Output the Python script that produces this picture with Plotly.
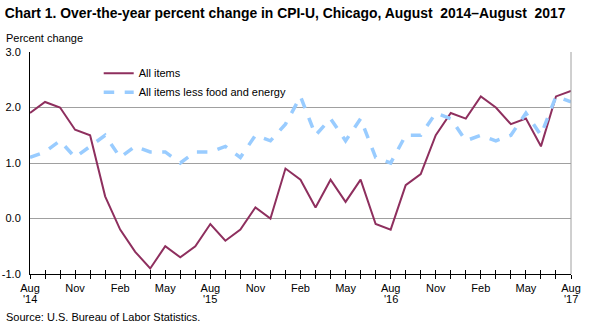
import plotly.graph_objects as go

months = ["Aug","Sep","Oct","Nov","Dec","Jan","Feb","Mar","Apr","May","Jun","Jul",
          "Aug","Sep","Oct","Nov","Dec","Jan","Feb","Mar","Apr","May","Jun","Jul",
          "Aug","Sep","Oct","Nov","Dec","Jan","Feb","Mar","Apr","May","Jun","Jul",
          "Aug"]
years = {0: "'14", 12: "'15", 24: "'16", 36: "'17"}
all_items = [1.9, 2.1, 2.0, 1.6, 1.5, 0.4, -0.2, -0.6, -0.9, -0.5, -0.7, -0.5,
             -0.1, -0.4, -0.2, 0.2, 0.0, 0.9, 0.7, 0.2, 0.7, 0.3, 0.7, -0.1,
             -0.2, 0.6, 0.8, 1.5, 1.9, 1.8, 2.2, 2.0, 1.7, 1.8, 1.3, 2.2, 2.3]
core = [1.1, 1.2, 1.4, 1.1, 1.3, 1.5, 1.1, 1.3, 1.2, 1.2, 1.0, 1.2,
        1.2, 1.3, 1.1, 1.5, 1.4, 1.7, 2.2, 1.5, 1.8, 1.4, 1.8, 1.1,
        1.0, 1.5, 1.5, 1.9, 1.8, 1.4, 1.5, 1.4, 1.5, 1.9, 1.5, 2.2, 2.1]
y_ticks = [-1.0, 0.0, 1.0, 2.0, 3.0]

x = list(range(len(months)))
labels = [m if i % 3 == 0 else "" for i, m in enumerate(months)]

fig = go.Figure()
fig.add_trace(go.Scatter(x=x, y=all_items, mode="lines", name="All items",
                         line=dict(color="#8E2F5E", width=2)))
fig.add_trace(go.Scatter(x=x, y=core, mode="lines", name="All items less food and energy",
                         line=dict(color="#99CCFF", width=3.5, dash="dash")))
# invisible trace for inside ticks on overlay axis
fig.add_trace(go.Scatter(x=[x[0]], y=[all_items[0]], xaxis="x2", mode="markers",
                         marker=dict(opacity=0), showlegend=False, hoverinfo="skip"))

font = "Liberation Sans, Arial, sans-serif"
fig.update_layout(
    width=590, height=326,
    margin=dict(l=30, r=19, t=52, b=52),
    paper_bgcolor="white", plot_bgcolor="white",
    font=dict(family=font, size=11, color="black"),
    title=dict(text="<b>Chart 1. Over-the-year percent change in CPI-U, Chicago, August  2014–August  2017</b>",
               x=0.008, xanchor="left", y=0.975, yanchor="top",
               font=dict(size=13.9, family=font)),
    xaxis=dict(range=[0, 36], tickvals=x, ticktext=labels, tickangle=0,
               ticks="outside", ticklen=4, tickcolor="black", tickwidth=1,
               showline=True, linecolor="black", linewidth=1,
               showgrid=False, zeroline=False, mirror=False,
               automargin=False, ticklabelstandoff=0),
    xaxis2=dict(range=[0, 36], overlaying="x", side="bottom", tickvals=x,
                showticklabels=False, ticks="inside", ticklen=4, tickcolor="black",
                showline=False, showgrid=False, zeroline=False, automargin=False),
    yaxis=dict(range=[-1.0, 3.0], tickvals=y_ticks,
               ticktext=[f"{v:.1f}" for v in y_ticks],
               showgrid=True, gridcolor="#A0A0A0", gridwidth=1,
               showline=True, linecolor="black", linewidth=1,
               zeroline=False, ticks="", ticklabelstandoff=6, automargin=False),
    legend=dict(x=0.127, y=0.97, xanchor="left", yanchor="top",
                bgcolor="rgba(0,0,0,0)", font=dict(size=11), tracegroupgap=2),
    showlegend=True,
)
for i, yr in years.items():
    fig.add_annotation(text=yr, x=x[i], xref="x", yref="paper",
                       y=-25/222, yanchor="middle", xanchor="center",
                       showarrow=False, font=dict(size=11))
fig.add_annotation(text="Percent change", xref="paper", yref="paper",
                   x=-26/541, y=(274-38)/222, xanchor="left", yanchor="middle",
                   showarrow=False, font=dict(size=11))
fig.add_annotation(text="Source: U.S. Bureau of Labor Statistics.", xref="paper", yref="paper",
                   x=-26/541, y=(274-317)/222, xanchor="left", yanchor="middle",
                   showarrow=False, font=dict(size=11))
# right grey border
fig.add_shape(type="line", xref="paper", yref="paper", x0=1, x1=1, y0=0, y1=1,
              line=dict(color="#A0A0A0", width=1))

fig.write_html("out.html")
